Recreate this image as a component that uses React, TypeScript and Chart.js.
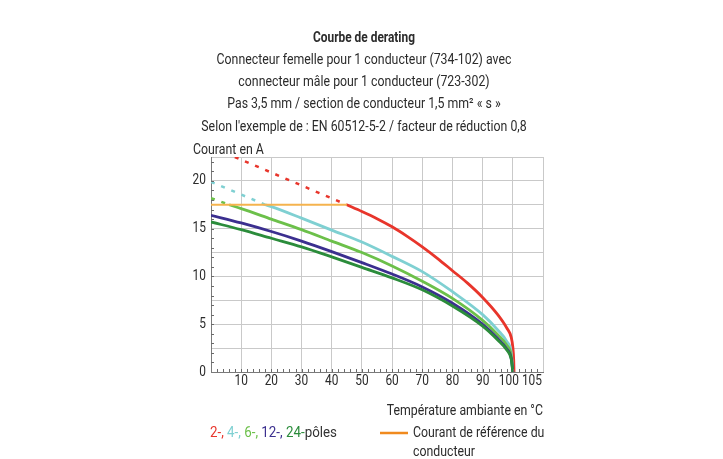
import React, { useEffect, useRef } from "react";
import { Chart, registerables } from "chart.js";

Chart.register(...registerables);

// ---- data ----
const titleText = "Courbe de derating";
const subtitleLines = [
  "Connecteur femelle pour 1 conducteur (734-102) avec",
  "connecteur mâle pour 1 conducteur (723-302)",
  "Pas 3,5 mm / section de conducteur 1,5 mm² « s »",
  "Selon l'exemple de : EN 60512-5-2 / facteur de réduction 0,8",
];
const yAxisTitle = "Courant en A";
const xAxisTitle = "Température ambiante en °C";
const xTickValues = [0, 10, 20, 30, 40, 50, 60, 70, 80, 90, 100, 105, 110];
const xLabelValues = [10, 20, 30, 40, 50, 60, 70, 80, 90, 100, 105];
const yLabelValues = [0, 5, 10, 15, 20];

const refTemps = [0, 45];
const refCurrent = [17.5, 17.5];

const red2Temps = [45, 50, 55, 60, 65, 70, 75, 80, 85, 90, 95, 98, 99.5, 100, 100.3, 100.4];
const red2Values = [17.5, 16.8, 16.05, 15.2, 14.2, 13.1, 11.9, 10.6, 9.3, 7.8, 6.0, 4.6, 3.6, 2.6, 1.2, 0];
const red2DashTemps = [7.9, 45];
const red2DashValues = [22.5, 17.5];

const cyan4Temps = [18, 20, 30, 40, 50, 60, 70, 80, 90, 95, 98, 99.5, 100];
const cyan4Values = [17.5, 17.3, 16.1, 14.85, 13.6, 12.1, 10.5, 8.4, 6.0, 4.4, 3.2, 2.0, 0];
const cyan4DashTemps = [0, 18];
const cyan4DashValues = [19.9, 17.5];

const green6Temps = [6, 10, 20, 30, 40, 50, 60, 70, 80, 90, 95, 98, 99.5, 100];
const green6Values = [17.5, 17.1, 16.0, 14.9, 13.7, 12.5, 11.1, 9.5, 7.7, 5.4, 3.9, 2.8, 1.7, 0];
const green6DashTemps = [0, 6];
const green6DashValues = [18.2, 17.5];

const purple12Temps = [0, 10, 20, 30, 40, 50, 60, 70, 80, 90, 95, 98, 99.5, 100];
const purple12Values = [16.4, 15.6, 14.7, 13.7, 12.6, 11.45, 10.25, 8.9, 7.2, 5.0, 3.5, 2.4, 1.4, 0];

const dkgreen24Temps = [0, 10, 20, 30, 40, 50, 60, 70, 80, 90, 95, 98, 99.5, 100];
const dkgreen24Values = [15.7, 14.9, 14.0, 13.1, 12.05, 10.95, 9.85, 8.6, 6.9, 4.8, 3.35, 2.3, 1.3, 0];

const legendParts = [
  { text: "2-, ", color: "#e8352b" },
  { text: "4-, ", color: "#7fd0d2" },
  { text: "6-, ", color: "#6cc04a" },
  { text: "12-, ", color: "#3b2f8f" },
  { text: "24-", color: "#2b8c3b" },
  { text: "pôles", color: "#333333" },
];
const refLegendLines = ["Courant de référence du", "conducteur"];

// ---- styles ----
const FONT = 'Roboto, "Noto Sans", sans-serif';
const SX = 0.85;
const C = {
  red: "#e8352b",
  cyan: "#7fd0d2",
  green: "#6cc04a",
  purple: "#3b2f8f",
  dkgreen: "#2b8c3b",
  orange: "#f5b34e",
  orangeLegend: "#f08a1e",
  grid: "#c9c9c9",
  axis: "#7a7a7a",
  text: "#2b2b2b",
};

const pts = (xs: number[], ys: number[]) => xs.map((x, i) => ({ x, y: ys[i] }));

function txt(ctx: CanvasRenderingContext2D, s: string, x: number, y: number, align: CanvasTextAlign, sx = SX) {
  ctx.save();
  ctx.translate(x, y);
  ctx.scale(sx, 1);
  ctx.textAlign = align;
  ctx.fillText(s, 0, 0);
  ctx.restore();
}

const textPlugin = {
  id: "texts",
  afterDraw(chart: any) {
    const ctx: CanvasRenderingContext2D = chart.ctx;
    const area = chart.chartArea;
    const xs = chart.scales.x;
    const ys = chart.scales.y;
    ctx.save();
    // minor ticks
    ctx.strokeStyle = "#6a6a6a";
    ctx.lineWidth = 1;
    ctx.beginPath();
    for (let v = 2; v < 110; v += 2) {
      const px = Math.round(xs.getPixelForValue(v)) + 0.5;
      ctx.moveTo(px, area.bottom);
      ctx.lineTo(px, area.bottom - 3);
    }
    for (let v = 1; v < 22.5; v += 1) {
      const py = Math.round(ys.getPixelForValue(v)) + 0.5;
      ctx.moveTo(area.left, py);
      ctx.lineTo(area.left + 3, py);
    }
    ctx.stroke();

    ctx.fillStyle = C.text;
    ctx.textBaseline = "middle";
    // tick labels
    ctx.font = `14px ${FONT}`;
    yLabelValues.forEach((v) => txt(ctx, String(v), area.left - 5, ys.getPixelForValue(v), "right"));
    xLabelValues.forEach((v) => {
      const shift = v === 100 ? -4 : v === 105 ? 4 : 0;
      txt(ctx, String(v), xs.getPixelForValue(v) + shift, area.bottom + 9, "center");
    });

    const cx = 364;
    ctx.font = `bold 14.5px ${FONT}`;
    txt(ctx, titleText, cx, 38, "center", 0.82);
    ctx.font = `14.5px ${FONT}`;
    subtitleLines.forEach((l, i) => txt(ctx, l, cx, 60 + i * 22.4, "center"));
    txt(ctx, yAxisTitle, 193, 150, "left");
    txt(ctx, xAxisTitle, 543, 411, "right");

    // legend
    const LSX = 0.92;
    let x = 210;
    legendParts.forEach((p) => {
      ctx.fillStyle = p.color;
      txt(ctx, p.text, x, 433, "left", LSX);
      x += ctx.measureText(p.text).width * LSX;
    });
    ctx.strokeStyle = C.orangeLegend;
    ctx.lineWidth = 2.5;
    ctx.beginPath();
    ctx.moveTo(380, 433);
    ctx.lineTo(408, 433);
    ctx.stroke();
    ctx.fillStyle = C.text;
    refLegendLines.forEach((l, i) => txt(ctx, l, 413, 433 + i * 19, "left"));
    ctx.restore();
  },
};

export default function App() {
  const ref = useRef<HTMLCanvasElement>(null);
  useEffect(() => {
    if (!ref.current) return;
    const lw = 2.8;
    const solid = (label: string, data: any, color: string) => ({
      label,
      data,
      borderColor: color,
      borderWidth: lw,
      pointRadius: 0,
      fill: false,
      cubicInterpolationMode: "monotone" as const,
    });
    const dashed = (label: string, data: any, color: string) => ({
      label,
      data,
      borderColor: color,
      borderWidth: 2.5,
      borderDash: [4, 7],
      pointRadius: 0,
      fill: false,
    });
    const chart = new Chart(ref.current, {
      type: "line",
      data: {
        datasets: [
          { ...solid("ref", pts(refTemps, refCurrent), C.orange), borderWidth: 2 },
          dashed("2d", pts(red2DashTemps, red2DashValues), C.red),
          dashed("4d", pts(cyan4DashTemps, cyan4DashValues), C.cyan),
          dashed("6d", pts(green6DashTemps, green6DashValues), C.green),
          solid("24", pts(dkgreen24Temps, dkgreen24Values), C.dkgreen),
          solid("12", pts(purple12Temps, purple12Values), C.purple),
          solid("6", pts(green6Temps, green6Values), C.green),
          solid("4", pts(cyan4Temps, cyan4Values), C.cyan),
          solid("2", pts(red2Temps, red2Values), C.red),
        ],
      },
      options: {
        animation: false,
        responsive: false,
        layout: { padding: { left: 0, top: 157, right: 180, bottom: 0 } },
        plugins: { legend: { display: false }, title: { display: false }, tooltip: { enabled: false } },
        scales: {
          x: {
            type: "linear",
            min: 0,
            max: 110,
            afterBuildTicks: (scale: any) => {
              scale.ticks = xTickValues.map((v) => ({ value: v }));
            },
            afterFit: (scale: any) => {
              scale.height = 87;
            },
            grid: {
              color: (c: any) => (c.tick && c.tick.value === 105 ? "rgba(0,0,0,0)" : C.grid),
              drawTicks: false,
            },
            border: { color: C.axis, width: 1 },
            ticks: { display: false, autoSkip: false },
          },
          y: {
            min: 0,
            max: 22.5,
            afterFit: (scale: any) => {
              scale.width = 211;
            },
            grid: { color: C.grid, drawTicks: false },
            border: { color: C.axis, width: 1 },
            ticks: { display: false, stepSize: 2.5 },
          },
        },
      },
      plugins: [textPlugin],
    });
    return () => chart.destroy();
  }, []);
  return (
    <div style={{ position: "fixed", left: 0, top: 0, width: 723, height: 459, background: "#fff" }}>
      <canvas ref={ref} width={723} height={459} />
    </div>
  );
}
